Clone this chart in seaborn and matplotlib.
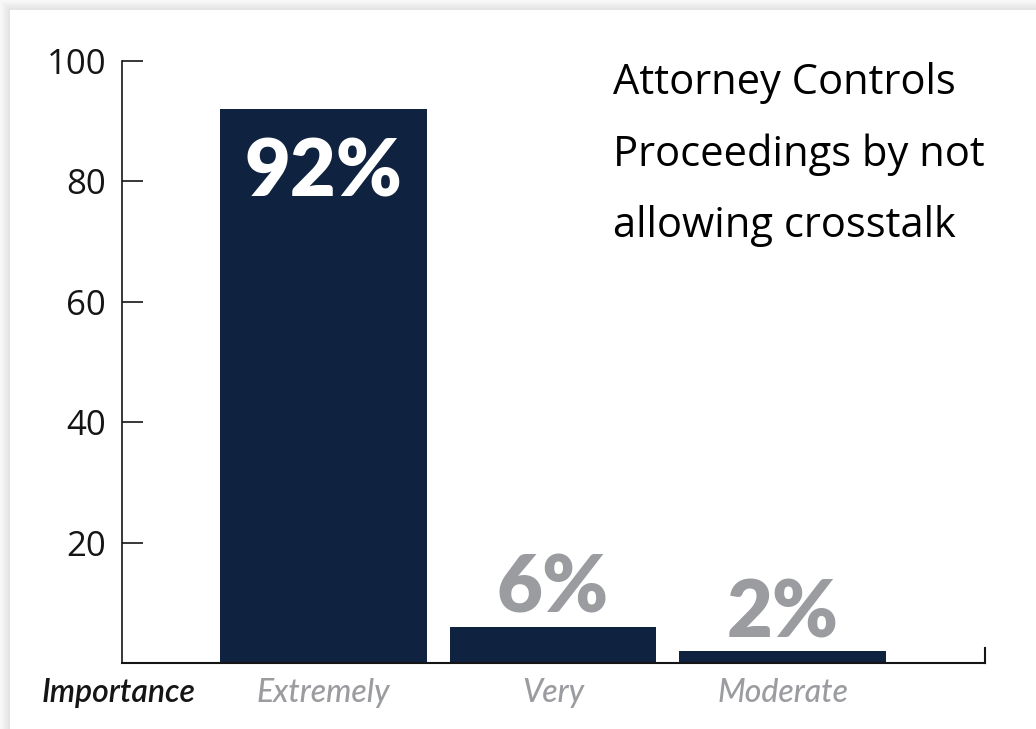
import matplotlib
matplotlib.use("Agg")
import matplotlib.pyplot as plt
import seaborn as sns
import pandas as pd
from matplotlib import font_manager
from matplotlib.patches import Rectangle

# -----------------------------
# Data
# -----------------------------
categories = ["Extremely", "Very", "Moderate"]
shares = [92, 6, 2]
share_labels = ["92%", "6%", "2%"]
y_ticks = [20, 40, 60, 80, 100]
title = "Attorney Controls\nProceedings by not\nallowing crosstalk"
axis_name = "Importance"

NAVY = "#0f2240"
GREY = "#9b9ca0"
INK = "#151515"

W, H = 1036, 729


def has_font(name):
    try:
        font_manager.findfont(name, fallback_to_default=False)
        return True
    except ValueError:
        return False


if has_font("Liberation Sans Narrow"):
    title_family, title_size, title_ls = ["Liberation Sans Narrow", "DejaVu Sans"], 39, 1.15
else:
    title_family, title_size, title_ls = ["Open Sans", "DejaVu Sans"], 30, 1.9

sns.set_theme(style="white")
plt.rcParams["font.family"] = ["Lato", "DejaVu Sans"]

df = pd.DataFrame({"importance": categories, "share": shares})

fig = plt.figure(figsize=(W / 100, H / 100), dpi=100)
fig.patch.set_facecolor("white")

# screenshot-like shadow on top and left
for i, shade in enumerate(["#e4e4e4", "#e9e9e9", "#eeeeee", "#f3f3f3", "#f8f8f8"]):
    off = 10 - 2 * i
    fig.patches.append(Rectangle((0, 0), off / W, 1, transform=fig.transFigure,
                                 facecolor=shade, edgecolor="none", zorder=0))
    fig.patches.append(Rectangle((0, 1 - off / H), 1, off / H, transform=fig.transFigure,
                                 facecolor=shade, edgecolor="none", zorder=0))

ax = fig.add_axes([122 / W, 66 / H, 863 / W, 602 / H])
ax.set_facecolor("none")

sns.barplot(data=df, x="importance", y="share", color=NAVY, saturation=1,
            width=0.9, linewidth=0, ax=ax)

ax.set_xlim(-0.878, 2.882)
ax.set_ylim(0, 100)
ax.set_xlabel("")
ax.set_ylabel("")

# spines
for side in ["left", "bottom", "right"]:
    ax.spines[side].set_visible(True)
    ax.spines[side].set_color(INK)
ax.spines["top"].set_visible(False)
ax.spines["left"].set_linewidth(1.2)
ax.spines["bottom"].set_linewidth(1.5)
ax.spines["right"].set_linewidth(1.5)
ax.spines["right"].set_bounds(0, 2.5)

# y axis
ax.set_yticks(y_ticks)
ax.tick_params(axis="y", left=True, direction="in", length=15, width=1.2,
               color=INK, pad=11.5, labelsize=25, labelcolor=INK)
for lab in ax.get_yticklabels():
    lab.set_fontfamily(["Open Sans", "DejaVu Sans"])

# x axis
ax.tick_params(axis="x", bottom=False, length=0, pad=11, labelsize=23, labelcolor=GREY)
for lab in ax.get_xticklabels():
    lab.set_fontstyle("italic")
    lab.set_fontweight("medium")

ax.text(-0.0927, -0.0498, axis_name, transform=ax.transAxes, ha="left", va="center",
        fontsize=23, fontstyle="italic", fontweight="semibold", color=INK)

# value labels
for bar, lab in zip(ax.patches, share_labels):
    x = bar.get_x() + bar.get_width() / 2
    h = bar.get_height()
    if h > 50:
        ax.annotate(lab, (x, h), xytext=(0, -62.6), textcoords="offset points",
                    ha="center", va="baseline", fontsize=57, fontweight="heavy",
                    color="white")
    else:
        ax.annotate(lab, (x, h), xytext=(0, 10), textcoords="offset points",
                    ha="center", va="baseline", fontsize=57, fontweight="heavy",
                    color=GREY)

# title block (baseline of the last line)
fig.text(613 / W, (H - 237) / H, title, ha="left", va="baseline",
         fontsize=title_size, fontweight="medium", family=title_family,
         color="black", linespacing=title_ls)

fig.savefig("out.png", dpi=100, facecolor=fig.get_facecolor())
plt.close(fig)
